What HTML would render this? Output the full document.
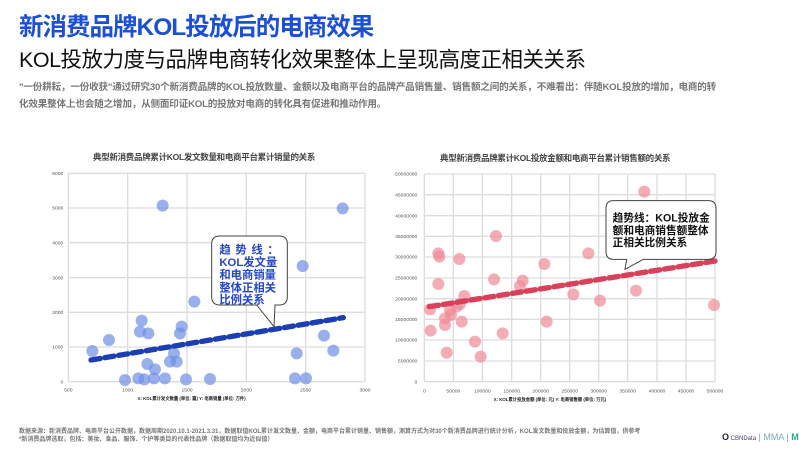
<!DOCTYPE html>
<html><head><meta charset="utf-8"><style>
body{margin:0;width:811px;height:453px;background:#fff;overflow:hidden;font-family:"Liberation Sans","Noto Sans CJK SC",sans-serif;position:relative}
.a{position:absolute;white-space:nowrap}
</style></head><body>
<div class="a" style="left:19px;top:8px;font-size:24.5px;font-weight:bold;color:#1a4fd6;letter-spacing:-1px">新消费品牌KOL投放后的电商效果</div>
<div class="a" style="left:19px;top:43px;font-size:21.5px;color:#111;letter-spacing:-0.5px">KOL投放力度与品牌电商转化效果整体上呈现高度正相关关系</div>
<div class="a" style="left:19px;top:79px;font-size:9.6px;color:#777;font-weight:bold;line-height:17px;width:700px;white-space:normal;letter-spacing:-0.2px">"一份耕耘，一份收获"通过研究30个新消费品牌的KOL投放数量、金额以及电商平台的品牌产品销售量、销售额之间的关系，不难看出：伴随KOL投放的增加，电商的转化效果整体上也会随之增加，从侧面印证KOL的投放对电商的转化具有促进和推动作用。</div>
<div class="a" style="left:93px;top:151px;font-size:8.5px;color:#444;font-weight:bold;letter-spacing:-0.3px">典型新消费品牌累计KOL发文数量和电商平台累计销量的关系</div>
<div class="a" style="left:440px;top:152px;font-size:8.5px;color:#444;font-weight:bold;letter-spacing:-0.3px">典型新消费品牌累计KOL投放金额和电商平台累计销售额的关系</div>
<svg class="a" style="left:0;top:0" width="811" height="453">
<g transform="translate(30,160) scale(0.33333)" font-family="Liberation Sans" font-size="15" fill="#555">
<g stroke="#ddd" stroke-width="4">
<line x1="115" y1="40" x2="115" y2="665"/><line x1="293" y1="40" x2="293" y2="665"/><line x1="471" y1="40" x2="471" y2="665"/><line x1="649" y1="40" x2="649" y2="665"/><line x1="827" y1="40" x2="827" y2="665"/><line x1="1005" y1="40" x2="1005" y2="665"/>
<line x1="115" y1="40" x2="1005" y2="40"/><line x1="115" y1="144" x2="1005" y2="144"/><line x1="115" y1="248" x2="1005" y2="248"/><line x1="115" y1="353" x2="1005" y2="353"/><line x1="115" y1="457" x2="1005" y2="457"/><line x1="115" y1="561" x2="1005" y2="561"/><line x1="115" y1="665" x2="1005" y2="665"/>
</g>
<g text-anchor="end"><text x="100" y="45">6000</text><text x="100" y="149">5000</text><text x="100" y="253">4000</text><text x="100" y="358">3000</text><text x="100" y="462">2000</text><text x="100" y="566">1000</text><text x="100" y="670">0</text></g>
<g text-anchor="middle"><text x="115" y="695">500</text><text x="293" y="695">1000</text><text x="471" y="695">1500</text><text x="649" y="695">2000</text><text x="827" y="695">2500</text><text x="1005" y="695">3000</text></g>
<text x="485" y="720" text-anchor="middle" font-size="13" fill="#222" font-weight="bold">X: KOL累计发文数量 (单位: 篇)  Y: 电商销量 (单位: 万件)</text>
<g fill="#6f8fe6" fill-opacity="0.7">
<circle cx="187" cy="573" r="18"/><circle cx="237" cy="540" r="18"/><circle cx="398" cy="137" r="18"/><circle cx="335" cy="482" r="18"/><circle cx="330" cy="515" r="18"/><circle cx="355" cy="520" r="18"/><circle cx="285" cy="660" r="18"/><circle cx="325" cy="655" r="18"/><circle cx="352" cy="612" r="18"/><circle cx="375" cy="628" r="18"/><circle cx="372" cy="655" r="18"/><circle cx="405" cy="655" r="18"/><circle cx="420" cy="605" r="18"/><circle cx="432" cy="580" r="18"/><circle cx="440" cy="605" r="18"/><circle cx="455" cy="500" r="18"/><circle cx="450" cy="520" r="18"/><circle cx="493" cy="425" r="18"/><circle cx="468" cy="658" r="18"/><circle cx="540" cy="657" r="18"/><circle cx="800" cy="580" r="18"/><circle cx="818" cy="318" r="18"/><circle cx="795" cy="655" r="18"/><circle cx="828" cy="655" r="18"/><circle cx="882" cy="527" r="18"/><circle cx="910" cy="572" r="18"/><circle cx="938" cy="145" r="18"/><circle cx="343" cy="658" r="18"/>
</g>
<line x1="183" y1="600" x2="940" y2="473" stroke="#1b3fb0" stroke-width="16" stroke-dasharray="28,14" stroke-linecap="round"/>
<path d="M570 228 H748 Q772 228 772 252 V410 Q772 435 748 435 H735 L732 500 L680 435 H570 Q545 435 545 410 V252 Q545 228 570 228 Z" fill="#fff" stroke="#444" stroke-width="3"/>
<g font-size="34" font-weight="bold" fill="#2447c8" font-family="Liberation Sans,Noto Sans CJK SC,sans-serif"><text x="568" y="280" letter-spacing="14">趋势线：</text><text x="568" y="318">KOL发文量</text><text x="568" y="356">和电商销量</text><text x="568" y="394">整体正相关</text><text x="568" y="430">比例关系</text></g>
</g>
<g transform="translate(380,160) scale(0.33333)" font-family="Liberation Sans" font-size="15" fill="#555">
<g stroke="#ddd" stroke-width="4">
<line x1="133" y1="42" x2="133" y2="665"/><line x1="220" y1="42" x2="220" y2="665"/><line x1="307" y1="42" x2="307" y2="665"/><line x1="395" y1="42" x2="395" y2="665"/><line x1="482" y1="42" x2="482" y2="665"/><line x1="569" y1="42" x2="569" y2="665"/><line x1="656" y1="42" x2="656" y2="665"/><line x1="743" y1="42" x2="743" y2="665"/><line x1="831" y1="42" x2="831" y2="665"/><line x1="918" y1="42" x2="918" y2="665"/><line x1="1005" y1="42" x2="1005" y2="665"/>
<line x1="133" y1="42" x2="1005" y2="42"/><line x1="133" y1="104" x2="1005" y2="104"/><line x1="133" y1="167" x2="1005" y2="167"/><line x1="133" y1="229" x2="1005" y2="229"/><line x1="133" y1="291" x2="1005" y2="291"/><line x1="133" y1="354" x2="1005" y2="354"/><line x1="133" y1="416" x2="1005" y2="416"/><line x1="133" y1="478" x2="1005" y2="478"/><line x1="133" y1="540" x2="1005" y2="540"/><line x1="133" y1="603" x2="1005" y2="603"/><line x1="133" y1="665" x2="1005" y2="665"/>
</g>
<g text-anchor="end"><text x="112" y="47">50000000</text><text x="112" y="109">45000000</text><text x="112" y="172">40000000</text><text x="112" y="234">35000000</text><text x="112" y="296">30000000</text><text x="112" y="359">25000000</text><text x="112" y="421">20000000</text><text x="112" y="483">15000000</text><text x="112" y="545">10000000</text><text x="112" y="608">5000000</text><text x="112" y="670">0</text></g>
<g text-anchor="middle"><text x="133" y="697">0</text><text x="220" y="697">50000</text><text x="307" y="697">100000</text><text x="395" y="697">150000</text><text x="482" y="697">200000</text><text x="569" y="697">250000</text><text x="656" y="697">300000</text><text x="743" y="697">350000</text><text x="831" y="697">400000</text><text x="918" y="697">450000</text><text x="1005" y="697">500000</text></g>
<text x="510" y="723" text-anchor="middle" font-size="13" fill="#222" font-weight="bold">X: KOL累计投放金额 (单位: 元)  Y: 电商销售额 (单位: 万元)</text>
<g fill="#f08a95" fill-opacity="0.7">
<circle cx="150" cy="448" r="18"/><circle cx="152" cy="512" r="18"/><circle cx="175" cy="280" r="18"/><circle cx="178" cy="290" r="18"/><circle cx="175" cy="372" r="18"/><circle cx="195" cy="475" r="18"/><circle cx="195" cy="495" r="18"/><circle cx="200" cy="578" r="18"/><circle cx="213" cy="465" r="18"/><circle cx="238" cy="297" r="18"/><circle cx="240" cy="432" r="18"/><circle cx="245" cy="485" r="18"/><circle cx="253" cy="408" r="18"/><circle cx="285" cy="545" r="18"/><circle cx="302" cy="590" r="18"/><circle cx="348" cy="228" r="18"/><circle cx="342" cy="358" r="18"/><circle cx="368" cy="520" r="18"/><circle cx="420" cy="378" r="18"/><circle cx="428" cy="362" r="18"/><circle cx="493" cy="312" r="18"/><circle cx="500" cy="485" r="18"/><circle cx="580" cy="403" r="18"/><circle cx="625" cy="280" r="18"/><circle cx="660" cy="422" r="18"/><circle cx="768" cy="392" r="18"/><circle cx="793" cy="95" r="18"/><circle cx="1002" cy="435" r="18"/><circle cx="210" cy="450" r="18"/><circle cx="230" cy="440" r="18"/>
</g>
<line x1="148" y1="440" x2="1005" y2="303" stroke="#d9405a" stroke-width="16" stroke-dasharray="28,14" stroke-linecap="round"/>
<path d="M700 122 H985 Q1008 122 1008 145 V275 Q1008 298 985 298 H790 L735 328 L740 298 H700 Q678 298 678 275 V145 Q678 122 700 122 Z" fill="#fff" stroke="#444" stroke-width="3"/>
<g font-size="32" font-weight="bold" fill="#111" font-family="Liberation Sans,Noto Sans CJK SC,sans-serif"><text x="698" y="185">趋势线：KOL投放金</text><text x="698" y="222">额和电商销售额整体</text><text x="698" y="258">正相关比例关系</text></g>
</g>
</svg>
<div class="a" style="left:19px;top:428px;font-size:6px;color:#777;line-height:8px;font-weight:bold">数据来源：新消费品牌、电商平台公开数据，数据周期2020.10.1-2021.3.31，数据取值KOL累计发文数量、金额，电商平台累计销量、销售额，测算方式为对30个新消费品牌进行统计分析，KOL发文数量和投放金额，为估算值，供参考<br>*新消费品牌选取，包括：美妆、食品、服饰、个护等类目的代表性品牌（数据取值均为近似值）</div>
<div class="a" style="left:722px;top:432px;font-size:9px;color:#446"><b style="color:#223">O</b><span style="font-size:6px"> CBNData</span> <span style="color:#7ab">| MMA |</span> <b style="color:#2a9">M</b></div>
</body></html>
